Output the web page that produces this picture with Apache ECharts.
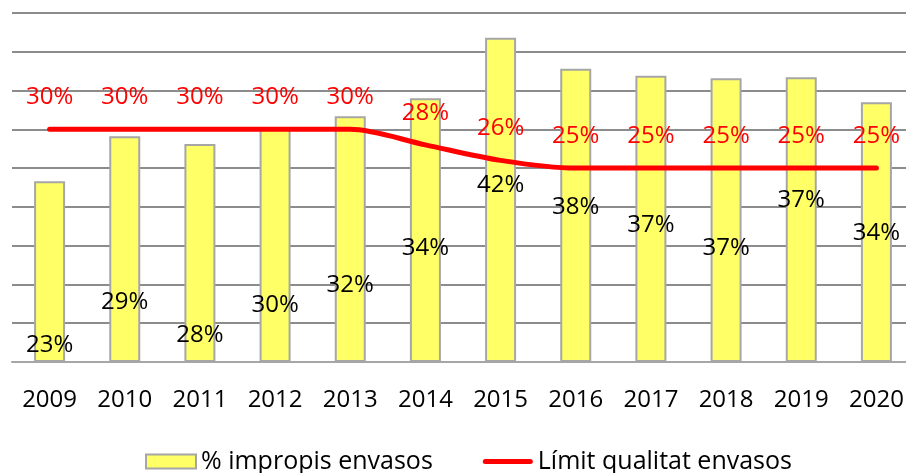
<!DOCTYPE html>
<html>
<head>
<meta charset="utf-8">
<script src="https://cdn.jsdelivr.net/npm/echarts@6/dist/echarts.min.js"></script>
<style>
  html, body { margin: 0; padding: 0; background: #fff; overflow: hidden; }
  #chart { width: 920px; height: 473px; }
</style>
</head>
<body>
<div id="chart"></div>
<script>
var years = ['2009','2010','2011','2012','2013','2014','2015','2016','2017','2018','2019','2020'];
var impropis = [23.3, 29.1, 28.1, 30.2, 31.7, 34, 41.8, 37.8, 36.9, 36.6, 36.7, 33.5];
var limit = [30, 30, 30, 30, 30, 28, 26, 25, 25, 25, 25, 25];
var barName = '% impropis envasos';
var lineName = 'Límit qualitat envasos';

// where each bar's label sits, px above the axis (as in the original)
var barLabelLift = [17, 60, 27, 57, 77, 114, 177, 155, 137, 114, 162, 129];

var font = '"Open Sans", "Noto Sans", sans-serif';
// the plot runs past the right edge of the window, so the div is a bit wider
var myChart = echarts.init(document.getElementById('chart'));

var barData = impropis.map(function (v, i) {
    return {
        value: v,
        label: { offset: [0, -barLabelLift[i]] }
    };
});

var option = {
    animation: false,
    grid: { left: 12, top: 13, width: 902, height: 349 },
    legend: {
        top: 444,
        left: 140,
        itemWidth: 50,
        itemHeight: 14,
        itemGap: 50,
        textStyle: { fontFamily: font, fontSize: 25, color: '#000' },
        data: [
            { name: barName, icon: 'rect' },
            { name: lineName, icon: 'path://M2.5,0 L47.5,0 A2.5,2.5 0 0 1 47.5,5 L2.5,5 A2.5,2.5 0 0 1 2.5,0 Z' }
        ]
    },
    xAxis: {
        type: 'category',
        data: years,
        axisLine: { lineStyle: { color: '#a6a6a6', width: 2 } },
        axisTick: { length: 10, lineStyle: { color: '#a6a6a6', width: 2 } },
        axisLabel: { fontFamily: font, fontSize: 24, color: '#000', margin: 26 }
    },
    yAxis: {
        type: 'value',
        min: 0,
        max: 45,
        interval: 5,
        axisLine: { show: false },
        axisTick: { show: false },
        axisLabel: { show: false },
        splitLine: { lineStyle: { color: '#8c8c8c', width: 2 } }
    },
    series: [
        {
            name: barName,
            type: 'bar',
            barWidth: 31,
            data: barData,
            itemStyle: { color: '#ffff66', borderColor: '#a6a6a6', borderWidth: 2 },
            label: {
                show: true,
                position: ['50%', '100%'],
                align: 'center',
                verticalAlign: 'middle',
                fontFamily: font,
                fontSize: 24,
                color: '#000',
                formatter: function (p) { return Math.round(p.value) + '%'; }
            }
        },
        {
            name: lineName,
            type: 'line',
            data: limit,
            smooth: 0.3,
            symbol: 'circle',
            symbolSize: 0,
            showSymbol: true,
            lineStyle: { color: '#ff0000', width: 5, cap: 'round' },
            itemStyle: { color: '#ff0000' },
            label: {
                show: true,
                position: 'top',
                distance: 20,
                fontFamily: font,
                fontSize: 24,
                color: '#ff0000',
                formatter: '{c}%'
            }
        }
    ]
};

myChart.setOption(option);
</script>
</body>
</html>
